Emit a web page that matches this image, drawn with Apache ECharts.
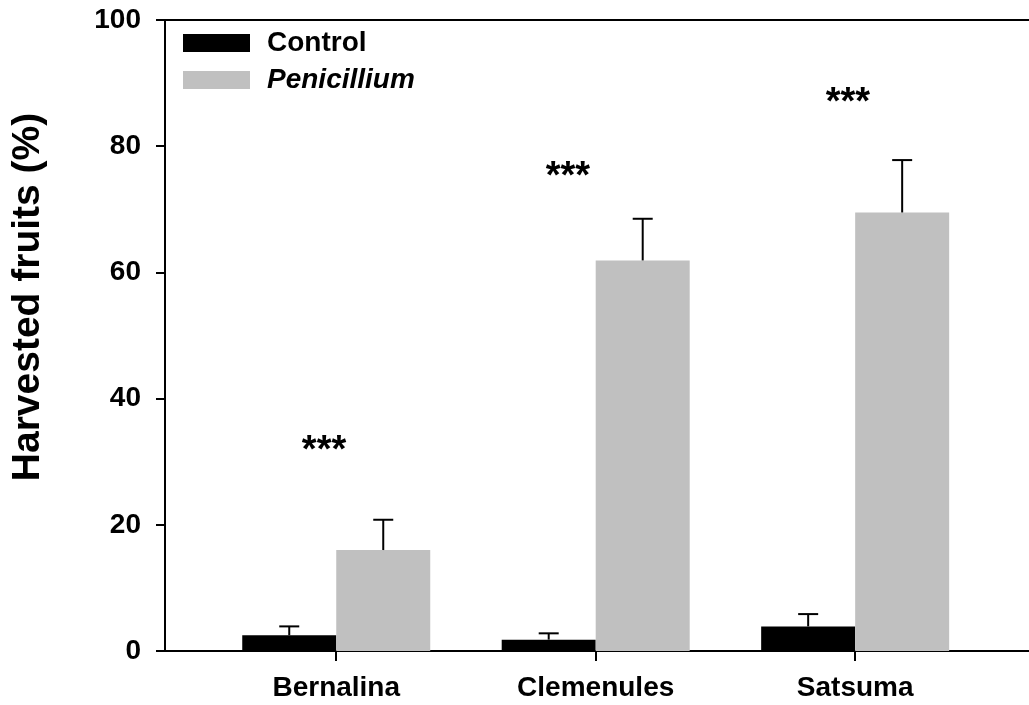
<!DOCTYPE html>
<html>
<head>
<meta charset="utf-8">
<script src="https://cdn.jsdelivr.net/npm/echarts@6/dist/echarts.min.js"></script>
<style>
html,body{margin:0;padding:0;background:#fff;}
#chart{width:1029px;height:705px;}
</style>
</head>
<body>
<div id="chart"></div>
<script>
const categories = ['Bernalina', 'Clemenules', 'Satsuma'];
const categoryPos = [1, 2, 3];
const controlValues = [2.5, 1.8, 3.9];
const controlErrors = [1.4, 1.0, 1.95];
const penicilliumValues = [16.0, 61.9, 69.5];
const penicilliumErrors = [4.8, 6.6, 8.3];
const sigLabels = ['***', '***', '***'];
const sigX = [0.953, 1.893, 2.972];
const sigY = [31.6, 75.1, 86.8];
const yTicks = [0, 20, 40, 60, 80, 100];

const FONT = '"Liberation Sans", Arial, sans-serif';
const BAR_W = 94;
const CAP_W = 20;

const chart = echarts.init(document.getElementById('chart'), null, {renderer: 'canvas'});

function errItem(offset) {
  return function (params, api) {
    const x = api.value(0), v = api.value(1), e = api.value(2);
    const base = api.coord([x, v]);
    const top = api.coord([x, v + e]);
    const cx = base[0] + offset;
    const style = {stroke: '#000', lineWidth: 2, fill: null};
    return {
      type: 'group',
      children: [
        {type: 'line', shape: {x1: cx, y1: base[1], x2: cx, y2: top[1]}, style: style},
        {type: 'line', shape: {x1: cx - CAP_W / 2, y1: top[1], x2: cx + CAP_W / 2, y2: top[1]}, style: style}
      ]
    };
  };
}

const ctrlData = categoryPos.map((p, i) => [p, controlValues[i]]);
const penData = categoryPos.map((p, i) => [p, penicilliumValues[i]]);
const ctrlErr = categoryPos.map((p, i) => [p, controlValues[i], controlErrors[i]]);
const penErr = categoryPos.map((p, i) => [p, penicilliumValues[i], penicilliumErrors[i]]);
const sigData = sigX.map((x, i) => [x, sigY[i], sigLabels[i]]);

const axisLineStyle = {color: '#000', width: 2};

chart.setOption({
  animation: false,
  backgroundColor: '#fff',
  grid: {left: 165, right: 0, top: 20, bottom: 54, containLabel: false},
  legend: {
    orient: 'vertical',
    left: 183,
    top: 29,
    padding: 0,
    itemWidth: 67,
    itemHeight: 18,
    itemGap: 9,
    icon: 'rect',
    data: ['Control', 'Penicillium'],
    formatter: function (name) {
      return name === 'Penicillium' ? '{i|' + name + '}' : '{n|' + name + '}';
    },
    textStyle: {
      rich: {
        n: {fontFamily: FONT, fontWeight: 'bold', fontSize: 28, lineHeight: 28, color: '#000', padding: [0, 0, 0, 12]},
        i: {fontFamily: FONT, fontWeight: 'bold', fontStyle: 'italic', fontSize: 28, lineHeight: 28, color: '#000', padding: [0, 0, 0, 12]}
      }
    }
  },
  xAxis: [{
    type: 'value',
    min: 0.34,
    max: 3.67,
    position: 'bottom',
    axisLine: {show: true, onZero: false, lineStyle: axisLineStyle},
    axisTick: {show: true, inside: false, length: 10, customValues: categoryPos, lineStyle: axisLineStyle},
    axisLabel: {
      show: true,
      customValues: categoryPos,
      margin: 23,
      formatter: function (v) { return categories[categoryPos.indexOf(v)] || ''; },
      fontFamily: FONT, fontWeight: 'bold', fontSize: 28, color: '#000'
    },
    splitLine: {show: false}
  }, {
    type: 'value',
    min: 0.34,
    max: 3.67,
    position: 'top',
    axisLine: {show: true, onZero: false, lineStyle: axisLineStyle},
    axisTick: {show: false},
    axisLabel: {show: false},
    splitLine: {show: false}
  }],
  yAxis: {
    type: 'value',
    min: 0,
    max: 100,
    interval: 20,
    axisLine: {show: true, lineStyle: axisLineStyle},
    axisTick: {show: true, inside: false, length: 9, lineStyle: axisLineStyle},
    axisLabel: {
      margin: 24,
      customValues: yTicks,
      fontFamily: FONT, fontWeight: 'bold', fontSize: 28, color: '#000'
    },
    splitLine: {show: false}
  },
  graphic: [{
    type: 'text',
    x: 28,
    y: 297,
    rotation: Math.PI / 2,
    style: {
      text: 'Harvested fruits (%)',
      fontFamily: FONT,
      fontWeight: 'bold',
      fontSize: 39,
      fill: '#000',
      align: 'center',
      verticalAlign: 'middle'
    }
  }],
  series: [
    {name: 'Control', type: 'bar', data: ctrlData, barWidth: BAR_W, barGap: '0%', itemStyle: {color: '#000'}},
    {name: 'Penicillium', type: 'bar', data: penData, barWidth: BAR_W, barGap: '0%', itemStyle: {color: '#c0c0c0'}},
    {name: 'errCtrl', type: 'custom', data: ctrlErr, renderItem: errItem(-BAR_W / 2), z: 5},
    {name: 'errPen', type: 'custom', data: penErr, renderItem: errItem(BAR_W / 2), z: 5},
    {
      name: 'sig', type: 'scatter', data: sigData, symbolSize: 0,
      itemStyle: {opacity: 1, color: '#000'},
      label: {
        show: true, position: 'inside',
        formatter: function (p) { return p.data[2]; },
        fontFamily: FONT, fontWeight: 'bold', fontSize: 38, color: '#000',
        textBorderWidth: 0, opacity: 1
      },
      emphasis: {disabled: true}
    }
  ]
});
</script>
</body>
</html>
